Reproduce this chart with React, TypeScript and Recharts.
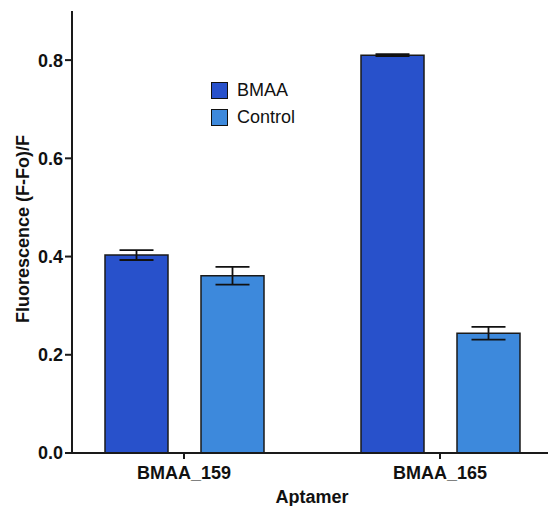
import { Bar, BarChart, ErrorBar, XAxis, YAxis } from "recharts";

const categories = ["BMAA_159", "BMAA_165"];
const bmaa = [0.403, 0.81];
const bmaaErr = [0.01, 0.002];
const control = [0.361, 0.244];
const controlErr = [0.018, 0.013];
const yTicks = [0, 0.2, 0.4, 0.6, 0.8];

const BMAA_COLOR = "#2851CB";
const CONTROL_COLOR = "#3D89DC";
const FONT = "'Liberation Sans', Arial, sans-serif";

const data = categories.map((name, i) => ({
  name,
  bmaa: bmaa[i],
  bmaaErr: bmaaErr[i],
  control: control[i],
  controlErr: controlErr[i],
}));

const legendItems = [
  { label: "BMAA", color: BMAA_COLOR },
  { label: "Control", color: CONTROL_COLOR },
];

function LegendBox() {
  return (
    <div style={{ position: "absolute", left: 211, top: 77, fontFamily: FONT, fontSize: 18, color: "#111" }}>
      {legendItems.map((it) => (
        <div key={it.label} style={{ display: "flex", alignItems: "center", height: 27 }}>
          <span
            style={{
              width: 15,
              height: 15,
              background: it.color,
              border: "1.5px solid #111",
              marginRight: 9,
              display: "inline-block",
            }}
          />
          <span>{it.label}</span>
        </div>
      ))}
    </div>
  );
}

export default function App() {
  return (
    <div style={{ position: "absolute", left: 0, top: 0, width: 548, height: 506, overflow: "hidden", background: "#fff" }}>
      <BarChart
        width={548}
        height={506}
        data={data}
        margin={{ top: 11, right: 0, bottom: 0, left: 0 }}
        barSize={63}
        barGap={33}
      >
        <XAxis
          dataKey="name"
          padding={{ left: -16, right: -20 }}
          axisLine={{ stroke: "#1a1a1a", strokeWidth: 2 }}
          tickLine={{ stroke: "#1a1a1a", strokeWidth: 2 }}
          tickSize={6}
          tickMargin={7}
          tick={{ fill: "#111", fontSize: 18, fontWeight: 700, fontFamily: FONT }}
          height={53}
          label={{
            content: () => (
              <text x={312} y={503} textAnchor="middle" fill="#111" fontSize={18} fontWeight={700} fontFamily={FONT}>
                Aptamer
              </text>
            ),
          }}
        />
        <YAxis
          width={72}
          domain={[0, 0.9]}
          ticks={yTicks}
          tickFormatter={(v: number) => v.toFixed(1)}
          axisLine={{ stroke: "#1a1a1a", strokeWidth: 2 }}
          tickLine={{ stroke: "#1a1a1a", strokeWidth: 2 }}
          tickSize={7}
          tick={{ fill: "#111", fontSize: 18, fontWeight: 700, fontFamily: FONT }}
          label={{
            content: () => (
              <text
                x={23}
                y={229}
                transform="rotate(-90, 23, 229)"
                textAnchor="middle"
                dominantBaseline="central"
                fill="#111"
                fontSize={18}
                fontWeight={700}
                fontFamily={FONT}
              >
                Fluorescence (F-Fo)/F
              </text>
            ),
          }}
        />
        <Bar dataKey="bmaa" fill={BMAA_COLOR} stroke="#1a1a1a" strokeWidth={1.5} isAnimationActive={false}>
          <ErrorBar dataKey="bmaaErr" width={17} stroke="#111" strokeWidth={1.8} direction="y" />
        </Bar>
        <Bar dataKey="control" fill={CONTROL_COLOR} stroke="#1a1a1a" strokeWidth={1.5} isAnimationActive={false}>
          <ErrorBar dataKey="controlErr" width={17} stroke="#111" strokeWidth={1.8} direction="y" />
        </Bar>
      </BarChart>
      <LegendBox />
    </div>
  );
}
